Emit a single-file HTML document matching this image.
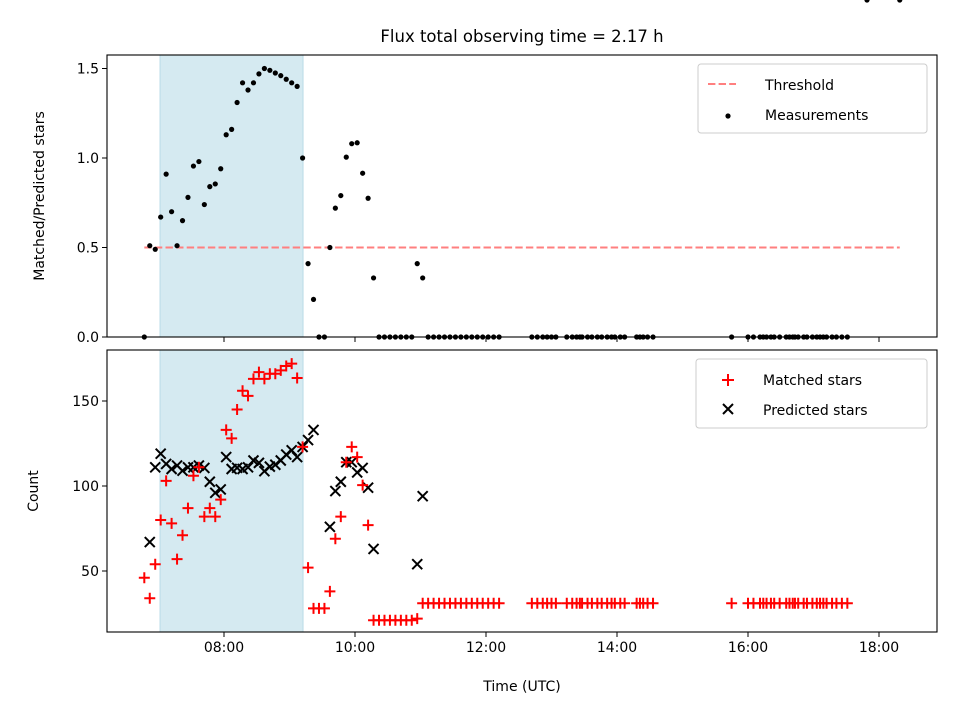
<!DOCTYPE html>
<html><head><meta charset="utf-8"><style>
body{margin:0;background:#fff}
svg text{font-family:"DejaVu Sans","Liberation Sans",sans-serif;fill:#000}
</style></head><body>
<svg id="chart" width="960" height="720" xmlns="http://www.w3.org/2000/svg">
<rect width="960" height="720" fill="#fff"/>
<text x="522" y="42" font-size="16.5" text-anchor="middle">Flux total observing time = 2.17 h</text>
<text transform="translate(44,196) rotate(-90)" font-size="14" text-anchor="middle">Matched/Predicted stars</text>
<text transform="translate(38,491) rotate(-90)" font-size="14" text-anchor="middle">Count</text>
<text x="522" y="691" font-size="14" text-anchor="middle">Time (UTC)</text>
<g id="gtop"></g><g id="gbot"></g>
</svg>
<script>
const times = [407,412,417,422,427,432,437,442,447,452,457,462,467,472,477,482,487,492,497,502,507,512,517,522,527,532,537,542,547,552,557,562,567,572,577,582,587,592,597,602,607,612,617,622,627,632,637,642,647,652,657,662,667,672,677,682,687,692,697,702,707,712,717,722,727,732,762,767,772,776,780,784,794,799,803,806,808,813,817,822,826,831,835,838,843,847,858,861,864,868,873,945,960,965,971,974,977,981,984,989,995,998,1001,1003,1006,1011,1014,1019,1023,1026,1029,1032,1037,1041,1046,1051,1069,1099];
const ratio = [0,0.51,0.49,0.67,0.91,0.70,0.51,0.65,0.78,0.955,0.98,0.74,0.84,0.855,0.94,1.13,1.16,1.31,1.42,1.38,1.42,1.47,1.50,1.49,1.475,1.46,1.44,1.42,1.40,1.00,0.41,0.21,0,0,0.50,0.72,0.79,1.005,1.08,1.085,0.915,0.775,0.33,0,0,0,0,0,0,0,0.41,0.33,0,0,0,0,0,0,0,0,0,0,0,0,0,0,0,0,0,0,0,0,0,0,0,0,0,0,0,0,0,0,0,0,0,0,0,0,0,0,0,0,0,0,0,0,0,0,0,0,0,0,0,0,0,0,0,0,0,0,0,0,0,0,0,0];
const matched = [46,34,54,80,103,78,57,71,87,106,111,82,87,82,92,133,128,145,156,153,163,167,163,166,166,168,170.6,172,163.5,123,52,28,28,28,38,69,82,114,123,117,100.5,77,21,21,21,21,21,21,21,21,22,31,31,31,31,31,31,31,31,31,31,31,31,31,31,31,31,31,31,31,31,31,31,31,31,31,31,31,31,31,31,31,31,31,31,31,31,31,31,31,31,31,31,31,31,31,31,31,31,31,31,31,31,31,31,31,31,31,31,31,31,31,31,31,31,31];
const predicted = [null,67,111,119,113,110,112,109,111,111,112,110.6,102.5,96,98,117,110,110.7,110,111,115,113.6,108.7,111.4,112.5,115,118.5,121,117,123,127,133,null,null,76,97,102.5,114,114,108,110.6,99,63,null,null,null,null,null,null,null,54,94];
const xTickVals = [480,600,720,840,960,1080];
const xTickLabels = ["08:00","10:00","12:00","14:00","16:00","18:00"];
const topTicks = [0,0.5,1.0,1.5];
const topTickLabels = ["0.0","0.5","1.0","1.5"];
const botTicks = [50,100,150];
const threshold = 0.5;
const thresholdRange = [407,1099];
const shadeRange = [421.4,552.4];

const NS="http://www.w3.org/2000/svg";
const L=107,R=937;
const xs=m=>224+(m-480)*131/120;
const yTop=v=>337-v*179;
const yBot=v=>571-(v-50)*1.7;
function mk(parent,tag,attrs){const e=document.createElementNS(NS,tag);for(const k in attrs)e.setAttribute(k,attrs[k]);parent.appendChild(e);return e;}
const gTop=document.getElementById('gtop'),gBot=document.getElementById('gbot');
function panel(g,y0,y1,name){
  const s=mk(g,'rect',{x:xs(shadeRange[0]),y:y0,width:xs(shadeRange[1])-xs(shadeRange[0]),height:y1-y0,fill:'#d5eaf1',stroke:'#b9dbe7','stroke-width':1});
  
  
}
panel(gTop,55,337,'top');panel(gBot,350,632,'bottom');
const th=mk(gTop,'line',{x1:xs(thresholdRange[0]),x2:xs(thresholdRange[1]),y1:yTop(threshold),y2:yTop(threshold),stroke:'#ff7f7f','stroke-width':2,'stroke-dasharray':'7.4,3.2'});


times.forEach((t,i)=>{const c=mk(gTop,'circle',{cx:xs(t),cy:yTop(ratio[i]),r:2.6,fill:'#000'});

});
times.forEach((t,i)=>{if(predicted[i]==null)return;const x=xs(t),y=yBot(predicted[i]);
const p=mk(gBot,'path',{d:`M${x-5},${y-5}L${x+5},${y+5}M${x-5},${y+5}L${x+5},${y-5}`,stroke:'#000','stroke-width':2});

});
times.forEach((t,i)=>{const x=xs(t),y=yBot(matched[i]);
const p=mk(gBot,'path',{d:`M${x-5.5},${y}L${x+5.5},${y}M${x},${y-5.5}L${x},${y+5.5}`,stroke:'#f00','stroke-width':2});

});
[[gTop,55,337,'top'],[gBot,350,632,'bottom']].forEach(([g,a,b,n])=>{
  const f=mk(g,'rect',{x:L,y:a,width:R-L,height:b-a,fill:'none',stroke:'#000','stroke-width':1.1});
  
  
  xTickVals.forEach((v,i)=>{const tk=mk(g,'line',{x1:xs(v),x2:xs(v),y1:b,y2:b+5,stroke:'#000','stroke-width':1});
  
  
  if(n==='bottom'){const tx=mk(g,'text',{x:xs(v),y:b+20,'font-size':14,'text-anchor':'middle'});tx.textContent=xTickLabels[i];
  
  }});
});
topTicks.forEach((v,i)=>{const y=yTop(v);mk(gTop,'line',{x1:L-5,x2:L,y1:y,y2:y,stroke:'#000'});
const tx=mk(gTop,'text',{x:L-8,y:y+5,'font-size':14,'text-anchor':'end'});tx.textContent=topTickLabels[i];

});
botTicks.forEach(v=>{const y=yBot(v);mk(gBot,'line',{x1:L-5,x2:L,y1:y,y2:y,stroke:'#000'});
const tx=mk(gBot,'text',{x:L-8,y:y+5,'font-size':14,'text-anchor':'end'});tx.textContent=String(v);

});
function legend(g,x,y,w,h,name){const r=mk(g,'rect',{x:x,y:y,width:w,height:h,rx:3,fill:'#fff','fill-opacity':0.85,stroke:'#ccc'});

}
legend(gTop,698,64,229,69,'top-legend');
mk(gTop,'line',{x1:708,x2:736,y1:84,y2:84,stroke:'#ff7f7f','stroke-width':2,'stroke-dasharray':'7.4,3.2'});
let t1=mk(gTop,'text',{x:765,y:90,'font-size':14});t1.textContent='Threshold';


mk(gTop,'circle',{cx:728,cy:116,r:2.6,fill:'#000'});
let t2=mk(gTop,'text',{x:765,y:120,'font-size':14});t2.textContent='Measurements';


legend(gBot,696,359,231,69,'bottom-legend');
mk(gBot,'path',{d:'M722,380L734,380M728,374L728,386',stroke:'#f00','stroke-width':2});
let t3=mk(gBot,'text',{x:763,y:385,'font-size':14});t3.textContent='Matched stars';


mk(gBot,'path',{d:'M723,404L733,414M723,414L733,404',stroke:'#000','stroke-width':2});
let t4=mk(gBot,'text',{x:763,y:415,'font-size':14});t4.textContent='Predicted stars';


</script>
</body></html>
